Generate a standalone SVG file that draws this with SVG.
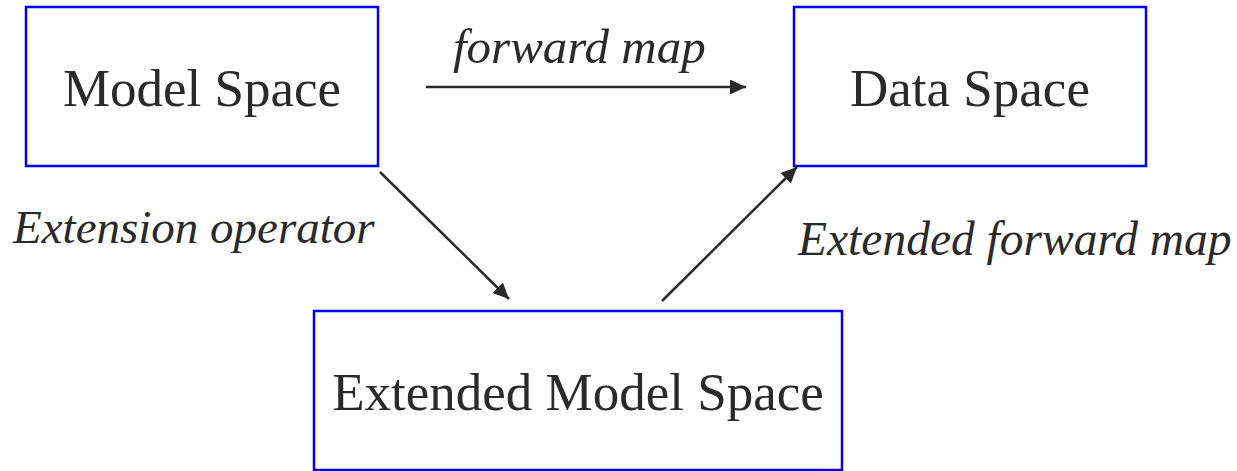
<svg xmlns="http://www.w3.org/2000/svg" width="1237" height="471" viewBox="0 0 1237 471">
<style>
.box{fill:#fff;stroke:#0000ff;stroke-width:2.5}
.t{font-family:"Liberation Serif","Times New Roman","DejaVu Serif",serif;font-size:53px;fill:#2a2a2a;text-anchor:middle}
.lbl{font-family:"Liberation Serif","Times New Roman","DejaVu Serif",serif;font-size:47px;font-style:italic;fill:#2a2a2a}
.c{stroke:#2a2a2a;stroke-width:2.5;fill:none;marker-end:url(#ah)}
</style>
<defs>
<marker id="ah" markerUnits="userSpaceOnUse" markerWidth="17" markerHeight="16" refX="16" refY="7.5" orient="auto">
<path d="M0,0 L16,7.5 L0,15 z" fill="#2a2a2a"/>
</marker>
</defs>
<rect width="1237" height="471" fill="#fff"/>
<g id="model-space"><rect class="box" x="26" y="7" width="352" height="159"/><text class="t" x="202" y="106">Model Space</text></g>
<g id="data-space"><rect class="box" x="794" y="7" width="352" height="159"/><text class="t" x="970" y="106">Data Space</text></g>
<g id="extended-model-space"><rect class="box" x="314" y="311" width="528" height="159"/><text class="t" x="578" y="410">Extended Model Space</text></g>
<g id="connectors">
<line class="c" x1="426" y1="87" x2="746" y2="87"/>
<line class="c" x1="380" y1="172" x2="509" y2="299"/>
<line class="c" x1="662" y1="301" x2="797" y2="167"/>
</g>
<g id="labels">
<text class="lbl" x="453" y="63" style="font-size:49px">forward map</text>
<text class="lbl" x="13" y="243">Extension operator</text>
<text class="lbl" x="798" y="255" style="font-size:47.5px">Extended forward map</text>
</g>
</svg>
